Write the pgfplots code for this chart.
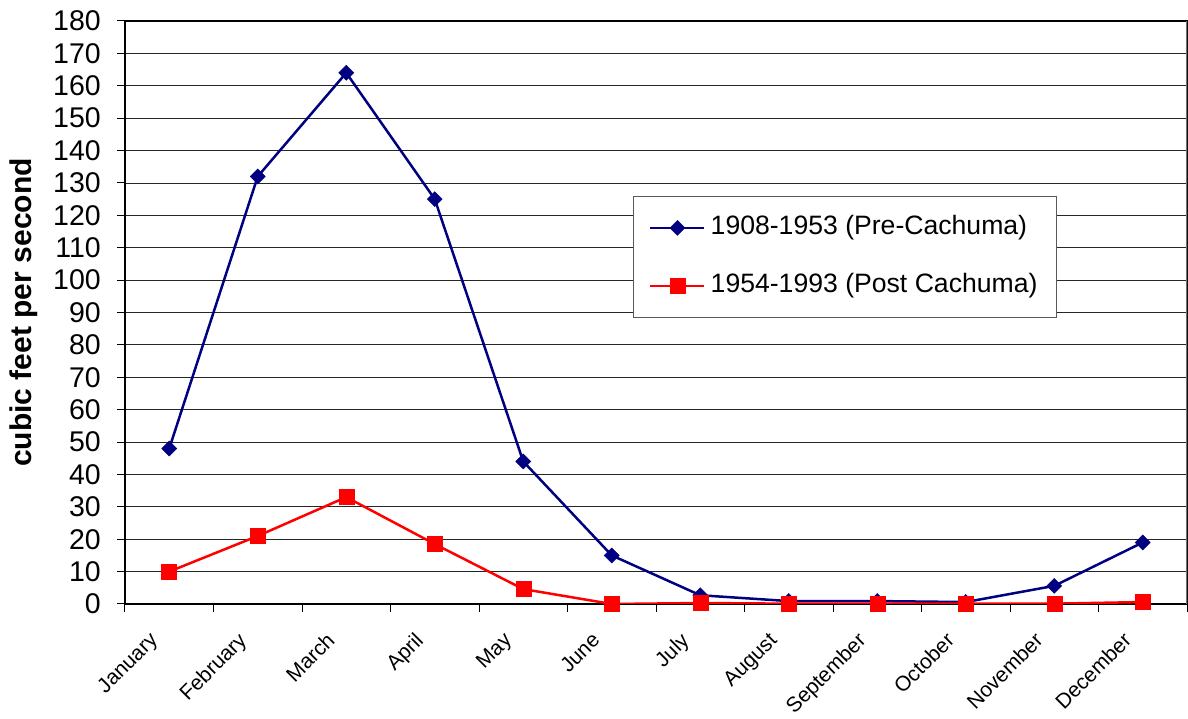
\documentclass[border=0pt]{standalone}
\usepackage{pgfplots}
\pgfplotsset{compat=1.18}
\usepackage{fontspec}
\setmainfont{Liberation Sans}
\definecolor{navyline}{RGB}{0,0,128}
\definecolor{redline}{RGB}{255,0,0}
\begin{document}
\begin{tikzpicture}
\begin{axis}[
  scale only axis,
  width=1062pt, height=583pt,
  xmin=-0.5, xmax=11.5, ymin=0, ymax=180,
  ytick={0,10,...,180},
  xtick={-0.5,0.5,...,11.5},
  xticklabels={},
  extra x ticks={0,1,2,3,4,5,6,7,8,9,10,11},
  extra x tick labels={January,February,March,April,May,June,July,August,September,October,November,December},
  extra x tick style={major tick length=0pt, grid=none},
  xtick pos=bottom, ytick pos=left,
  tick align=outside,
  major tick length=8pt,
  tick style={black, line width=1pt},
  ymajorgrids,
  major grid style={black!85, line width=0.8pt},
  axis line style={black, line width=1.2pt},
  /pgf/number format/assume math mode=true,
  yticklabel style={font=\fontsize{28.5}{32}\selectfont, anchor=east, inner sep=0pt, xshift=-16pt},
  xticklabel style={font=\fontsize{21}{24}\selectfont, xshift=-21pt, yshift=-27pt, rotate=45, anchor=north east, inner sep=0pt},
  ylabel={cubic feet per second},
  ylabel style={at={(axis description cs:0,0.5)}, anchor=center, yshift=101pt, font=\fontsize{30}{36}\selectfont\bfseries},
  legend style={at={(0.8776,0.70)}, anchor=north east, draw=black!65, line width=1pt, fill=white,
    inner xsep=16pt, inner ysep=16pt, row sep=27pt, column sep=2pt,
    font=\fontsize{26.6}{30}\selectfont,
    nodes={inner sep=3pt, text height=19pt, text depth=6pt}},
  legend cell align=left,
  legend image code/.code={\draw[mark repeat=2, mark phase=2] plot coordinates {(0pt,0pt) (27pt,0pt) (54pt,0pt)};},
]
\addplot[navyline, line width=2.5pt, mark=square*, mark size=5.3pt, mark options={solid, rotate=45, fill=navyline, line width=0.5pt}]
  coordinates {(0,48) (1,132) (2,164) (3,125) (4,44) (5,15) (6,2.7) (7,0.9) (8,0.9) (9,0.6) (10,5.6) (11,19)};
\addlegendentry{1908-1953 (Pre-Cachuma)}
\addplot[redline, line width=2.5pt, mark=square*, mark size=7.5pt, mark options={solid, fill=redline, line width=0.5pt}]
  coordinates {(0,10) (1,21) (2,33) (3,18.5) (4,4.6) (5,0) (6,0.3) (7,0.1) (8,0.1) (9,0.1) (10,0.1) (11,0.6)};
\addlegendentry{1954-1993 (Post Cachuma)}
\draw[black!55, line width=2pt] (rel axis cs:1,0) -- (rel axis cs:1,1);
\end{axis}
\pgfresetboundingbox
\path ([shift={(-125pt,-115pt)}]current axis.south west) rectangle ([shift={(1pt,21pt)}]current axis.north east);
\end{tikzpicture}
\end{document}
